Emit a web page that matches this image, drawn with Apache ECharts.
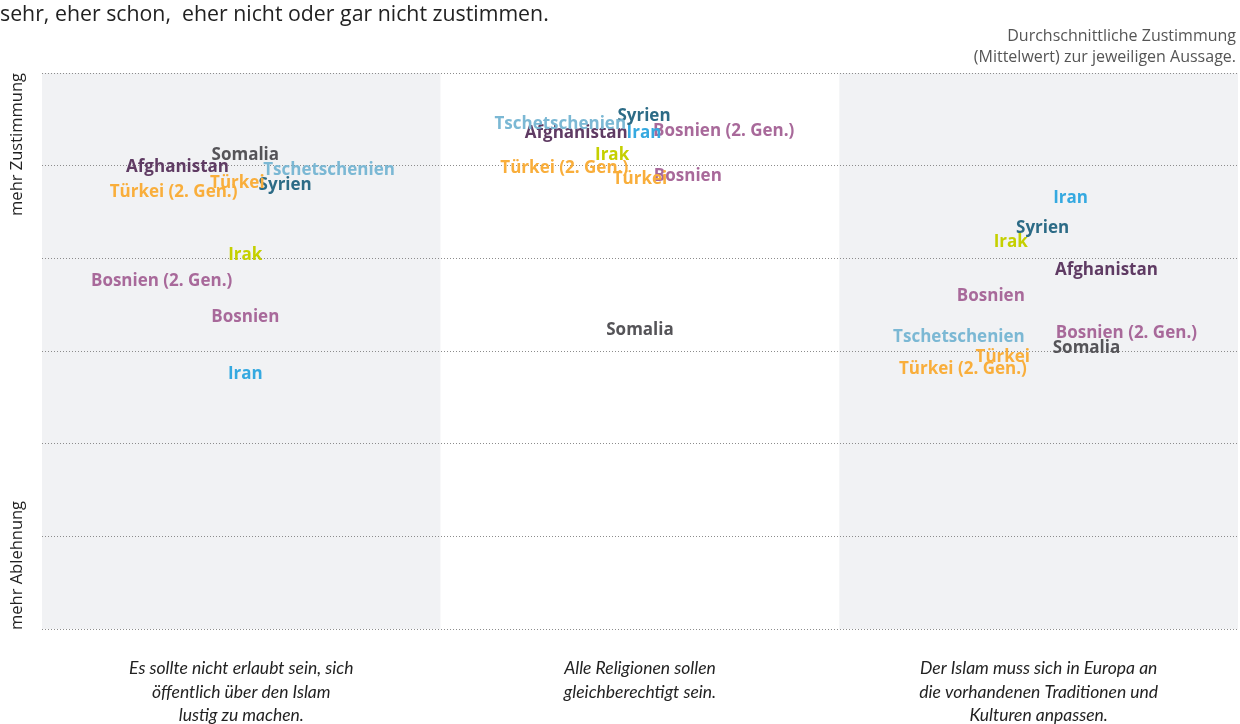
<!DOCTYPE html>
<html>
<head>
<meta charset="utf-8">
<script src="https://cdn.jsdelivr.net/npm/echarts@6/dist/echarts.min.js"></script>
<style>
html,body{margin:0;padding:0;background:#fff;}
#main{width:1240px;height:724px;}
</style>
</head>
<body>
<div id="main"></div>
<script>
// Aussagen (eine Spalte je Aussage)
var statements = [
	'Es sollte nicht erlaubt sein, sich\nöffentlich über den Islam\nlustig zu machen.',
	'Alle Religionen sollen\ngleichberechtigt sein.',
	'Der Islam muss sich in Europa an\ndie vorhandenen Traditionen und\nKulturen anpassen.'
];
var countries = ['Afghanistan','Bosnien','Bosnien (2. Gen.)','Irak','Iran','Somalia','Syrien','Tschetschenien','Türkei','Türkei (2. Gen.)'];
// Mittelwerte (1 = mehr Ablehnung ... 4 = mehr Zustimmung)
var meanStatement1 = [3.50, 2.69, 2.88, 3.02, 2.38, 3.56, 3.40, 3.48, 3.41, 3.36];
var meanStatement2 = [3.68, 3.45, 3.69, 3.56, 3.68, 2.62, 3.77, 3.73, 3.43, 3.49];
var meanStatement3 = [2.94, 2.80, 2.60, 3.09, 3.33, 2.52, 3.17, 2.58, 2.47, 2.41];
var yTicks = [1, 1.5, 2, 2.5, 3, 3.5, 4];

// seitliche Verschiebung der Beschriftung innerhalb der Spalte (nur Layout)
var shift1 = [-0.16, 0.01, -0.20, 0.01, 0.01, 0.01, 0.11, 0.22, -0.01, -0.17];
var shift2 = [-0.16, 0.12, 0.21, -0.07, 0.01, 0.00, 0.01, -0.20, 0.00, -0.19];
var shift3 = [0.17, -0.12, 0.22, -0.07, 0.08, 0.12, 0.01, -0.20, -0.09, -0.19];
var colors = ['#5f3b63','#a8699a','#a8699a','#c5d000','#35a9e0','#555458','#2c6b86','#7bb8d4','#f9ae3b','#f9ae3b'];

var means = [meanStatement1, meanStatement2, meanStatement3];
var shifts = [shift1, shift2, shift3];

var series = countries.map(function(name, i){
	return {
		name: name,
		type: 'scatter',
		xAxisIndex: 0,
		symbolSize: 1,
		z: 5,
		itemStyle: {color: 'rgba(0,0,0,0)', opacity: 1},
		label: {
			show: true,
			position: 'inside',
			offset: [0, 1],
			formatter: name,
			color: colors[i],
			fontFamily: 'Open Sans',
			fontWeight: 'bold',
			fontSize: 17
		},
		emphasis: {disabled: true},
		data: means.map(function(m, s){ return [s + 0.5 + shifts[s][i], m[i]]; })
	};
});

var chart = echarts.init(document.getElementById('main'));
chart.setOption({
	animation: false,
	textStyle: {fontFamily: 'Open Sans'},
	grid: {left: 42, right: 2, top: 73, bottom: 95, containLabel: false, outerBoundsMode: 'none'},
	xAxis: [
		{
			type: 'value', min: 0, max: 3, interval: 1, z: 0,
			axisLine: {show: false}, axisTick: {show: false}, axisLabel: {show: false},
			splitLine: {show: false},
			splitArea: {show: true, areaStyle: {color: ['#f1f2f4', '#ffffff']}}
		},
		{
			type: 'category', data: statements, position: 'bottom',
			axisLine: {show: false}, axisTick: {show: false}, splitLine: {show: false},
			axisLabel: {
				margin: 28, interval: 0,
				fontFamily: 'Lato', fontStyle: 'italic', fontSize: 17.5,
				lineHeight: 23.5, color: '#222'
			}
		}
	],
	yAxis: {
		type: 'value', min: yTicks[0], max: yTicks[yTicks.length - 1], interval: 0.5, z: 2,
		axisLine: {show: false}, axisTick: {show: false}, axisLabel: {show: false},
		splitLine: {show: true, lineStyle: {color: '#8c8c8c', width: 1, type: [1, 2]}}
	},
	graphic: [
		{type: 'text', left: 0, top: 4, style: {text: 'sehr, eher schon,  eher nicht oder gar nicht zustimmen.', fill: '#222', font: '21.3px "Open Sans"'}},
		{type: 'text', x: 1236, y: 36, style: {text: 'Durchschnittliche Zustimmung', fill: '#555', font: '16px "Open Sans"', align: 'right', verticalAlign: 'middle'}},
		{type: 'text', x: 1236, y: 57, style: {text: '(Mittelwert) zur jeweiligen Aussage.', fill: '#555', font: '16px "Open Sans"', align: 'right', verticalAlign: 'middle'}},
		{type: 'text', x: 17, y: 73, rotation: Math.PI / 2, style: {text: 'mehr Zustimmung', fill: '#222', font: '16.5px "Open Sans"', align: 'right', verticalAlign: 'middle'}},
		{type: 'text', x: 17, y: 630, rotation: Math.PI / 2, style: {text: 'mehr Ablehnung', fill: '#222', font: '16.5px "Open Sans"', align: 'left', verticalAlign: 'middle'}}
	],
	series: series
});
</script>
</body>
</html>
